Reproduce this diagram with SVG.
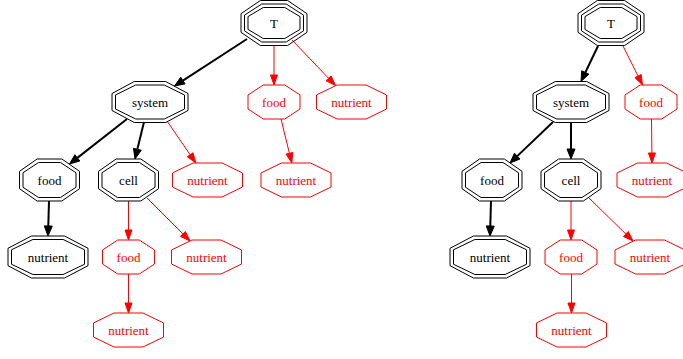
<svg xmlns="http://www.w3.org/2000/svg" width="683" height="359" viewBox="0 0 683 359" font-family="'Liberation Serif', 'Times New Roman', serif">
<defs>
<style>
.b{fill:none;stroke:#000000;stroke-width:1}
.r{fill:none;stroke:#ff0000;stroke-width:1}
.t{font-family:'Liberation Serif','Times New Roman',serif;font-size:13px;text-anchor:middle}
.tb{fill:#000000}
.tr{fill:#ff0000}
.eb{fill:none;stroke:#000000;stroke-width:2}
.er{fill:none;stroke:#ff0000;stroke-width:1}
.hb{fill:#000000;stroke:#000000;stroke-width:1}
.hr{fill:#ff0000;stroke:#ff0000;stroke-width:1}
</style>
</defs>
<rect width="683" height="359" fill="#ffffff"/>
<g id="connectors">
<path class="eb" d="M247,39 L182.89,80.56"/><polygon class="hb" points="174.5,86 180.71,77.2 185.07,83.92"/>
<path class="er" d="M274,46 L274,75"/><polygon class="hr" points="274,85 270.5,75 277.5,75"/>
<path class="er" d="M292,40 L328.59,78.27"/><polygon class="hr" points="335.5,85.5 326.06,80.69 331.12,75.85"/>
<path class="eb" d="M127,119 L77.37,157.84"/><polygon class="hb" points="69.5,164 74.91,154.69 79.83,160.99"/>
<path class="eb" d="M144,122 L137.36,149.28"/><polygon class="hb" points="135,159 133.47,148.34 141.25,150.22"/>
<path class="er" d="M167,121 L190.15,154.75"/><polygon class="hr" points="195.8,163 187.26,156.73 193.04,152.77"/>
<path class="er" d="M281,119 L289.42,153.29"/><polygon class="hr" points="291.8,163 286.02,154.12 292.82,152.46"/>
<path class="eb" d="M49,201 L48.29,226"/><polygon class="hb" points="48,236 44.29,225.89 52.29,226.11"/>
<path class="er" d="M128.5,201 L128.5,230"/><polygon class="hr" points="128.5,240 125,230 132,230"/>
<path class="er" d="M147,198 L182.93,233.93"/><polygon class="hr" points="190,241 180.46,236.4 185.4,231.46"/>
<path class="er" d="M128.5,274 L128.5,303"/><polygon class="hr" points="128.5,313 125,303 132,303"/>
<path class="eb" d="M598,46 L585.32,72.48"/><polygon class="hb" points="581,81.5 581.71,70.75 588.93,74.21"/>
<path class="er" d="M623,46 L638.03,76.06"/><polygon class="hr" points="642.5,85 634.9,77.63 641.16,74.49"/>
<path class="eb" d="M553,122 L517.24,156.1"/><polygon class="hb" points="510,163 514.48,153.2 520,159"/>
<path class="eb" d="M571,123 L571,149"/><polygon class="hb" points="571,159 567,149 575,149"/>
<path class="er" d="M651.5,119 L651.89,153"/><polygon class="hr" points="652,163 648.39,153.04 655.39,152.96"/>
<path class="eb" d="M491,201 L490.29,226"/><polygon class="hb" points="490,236 486.29,225.89 494.29,226.11"/>
<path class="er" d="M571,201 L571,230"/><polygon class="hr" points="571,240 567.5,230 574.5,230"/>
<path class="er" d="M589,198 L625.85,234.01"/><polygon class="hr" points="633,241 623.4,236.51 628.3,231.51"/>
<path class="er" d="M571.5,274 L571.5,303"/><polygon class="hr" points="571.5,313 568,303 575,303"/>
</g>
<g id="L_T">
<polygon class="b" points="307,13.68 287.66,0.5 260.34,0.5 241,13.68 241,32.32 260.34,45.5 287.66,45.5 307,32.32"/>
<polygon class="b" points="303.5,15.13 286.21,4 261.79,4 244.5,15.13 244.5,30.87 261.79,42 286.21,42 303.5,30.87"/>
<polygon class="b" points="300,16.58 284.76,7.5 263.24,7.5 248,16.58 248,29.42 263.24,38.5 284.76,38.5 300,29.42"/>
<text class="t tb" x="274" y="27.5">T</text>
</g>
<g id="L_system">
<polygon class="b" points="188,93.51 165.73,81.5 134.27,81.5 112,93.51 112,110.49 134.27,122.5 165.73,122.5 188,110.49"/>
<polygon class="b" points="184.5,94.96 164.28,85 135.72,85 115.5,94.96 115.5,109.04 135.72,119 164.28,119 184.5,109.04"/>
<text class="t tb" x="150" y="106.5">system</text>
</g>
<g id="L_T_food">
<polygon class="r" points="300,94.96 284.76,85 263.24,85 248,94.96 248,109.04 263.24,119 284.76,119 300,109.04"/>
<text class="t tr" x="274" y="106.5">food</text>
</g>
<g id="L_T_nutrient">
<polygon class="r" points="386.5,94.96 365.99,85 337.01,85 316.5,94.96 316.5,109.04 337.01,119 365.99,119 386.5,109.04"/>
<text class="t tr" x="351.5" y="106.5">nutrient</text>
</g>
<g id="L_food">
<polygon class="b" points="79.5,171.31 61.92,159 37.08,159 19.5,171.31 19.5,188.69 37.08,201 61.92,201 79.5,188.69"/>
<polygon class="b" points="76,172.75 60.47,162.5 38.53,162.5 23,172.75 23,187.25 38.53,197.5 60.47,197.5 76,187.25"/>
<text class="t tb" x="49.5" y="184.5">food</text>
</g>
<g id="L_cell">
<polygon class="b" points="158.5,171.31 140.92,159 116.08,159 98.5,171.31 98.5,188.69 116.08,201 140.92,201 158.5,188.69"/>
<polygon class="b" points="155,172.75 139.47,162.5 117.53,162.5 102,172.75 102,187.25 117.53,197.5 139.47,197.5 155,187.25"/>
<text class="t tb" x="128.5" y="184.5">cell</text>
</g>
<g id="L_sys_nutrient">
<polygon class="r" points="242.5,172.96 221.99,163 193.01,163 172.5,172.96 172.5,187.04 193.01,197 221.99,197 242.5,187.04"/>
<text class="t tr" x="207.5" y="184.5">nutrient</text>
</g>
<g id="L_food_nutrient_r">
<polygon class="r" points="331,172.96 310.49,163 281.51,163 261,172.96 261,187.04 281.51,197 310.49,197 331,187.04"/>
<text class="t tr" x="296" y="184.5">nutrient</text>
</g>
<g id="L_nutrient">
<polygon class="b" points="88,248.31 64.56,236 31.44,236 8,248.31 8,265.69 31.44,278 64.56,278 88,265.69"/>
<polygon class="b" points="84.5,249.75 63.11,239.5 32.89,239.5 11.5,249.75 11.5,264.25 32.89,274.5 63.11,274.5 84.5,264.25"/>
<text class="t tb" x="48" y="261.5">nutrient</text>
</g>
<g id="L_cell_food">
<polygon class="r" points="154.5,249.96 139.26,240 117.74,240 102.5,249.96 102.5,264.04 117.74,274 139.26,274 154.5,264.04"/>
<text class="t tr" x="128.5" y="261.5">food</text>
</g>
<g id="L_cell_nutrient">
<polygon class="r" points="241.5,249.96 220.99,240 192.01,240 171.5,249.96 171.5,264.04 192.01,274 220.99,274 241.5,264.04"/>
<text class="t tr" x="206.5" y="261.5">nutrient</text>
</g>
<g id="L_cell_food_nutrient">
<polygon class="r" points="163.5,322.96 142.99,313 114.01,313 93.5,322.96 93.5,337.04 114.01,347 142.99,347 163.5,337.04"/>
<text class="t tr" x="128.5" y="334.5">nutrient</text>
</g>
<g id="R_T">
<polygon class="b" points="644,13.68 624.66,0.5 597.34,0.5 578,13.68 578,32.32 597.34,45.5 624.66,45.5 644,32.32"/>
<polygon class="b" points="640.5,15.13 623.21,4 598.79,4 581.5,15.13 581.5,30.87 598.79,42 623.21,42 640.5,30.87"/>
<polygon class="b" points="637,16.58 621.76,7.5 600.24,7.5 585,16.58 585,29.42 600.24,38.5 621.76,38.5 637,29.42"/>
<text class="t tb" x="611" y="27.5">T</text>
</g>
<g id="R_system">
<polygon class="b" points="609,93.51 586.73,81.5 555.27,81.5 533,93.51 533,110.49 555.27,122.5 586.73,122.5 609,110.49"/>
<polygon class="b" points="605.5,94.96 585.28,85 556.72,85 536.5,94.96 536.5,109.04 556.72,119 585.28,119 605.5,109.04"/>
<text class="t tb" x="571" y="106.5">system</text>
</g>
<g id="R_T_food">
<polygon class="r" points="677,94.96 661.76,85 640.24,85 625,94.96 625,109.04 640.24,119 661.76,119 677,109.04"/>
<text class="t tr" x="651" y="106.5">food</text>
</g>
<g id="R_food">
<polygon class="b" points="522,171.31 504.42,159 479.58,159 462,171.31 462,188.69 479.58,201 504.42,201 522,188.69"/>
<polygon class="b" points="518.5,172.75 502.97,162.5 481.03,162.5 465.5,172.75 465.5,187.25 481.03,197.5 502.97,197.5 518.5,187.25"/>
<text class="t tb" x="492" y="184.5">food</text>
</g>
<g id="R_cell">
<polygon class="b" points="601,171.31 583.42,159 558.58,159 541,171.31 541,188.69 558.58,201 583.42,201 601,188.69"/>
<polygon class="b" points="597.5,172.75 581.97,162.5 560.03,162.5 544.5,172.75 544.5,187.25 560.03,197.5 581.97,197.5 597.5,187.25"/>
<text class="t tb" x="571" y="184.5">cell</text>
</g>
<g id="R_food_nutrient_r">
<polygon class="r" points="687,172.96 666.49,163 637.51,163 617,172.96 617,187.04 637.51,197 666.49,197 687,187.04"/>
<text class="t tr" x="652" y="184.5">nutrient</text>
</g>
<g id="R_nutrient">
<polygon class="b" points="530,248.31 506.56,236 473.44,236 450,248.31 450,265.69 473.44,278 506.56,278 530,265.69"/>
<polygon class="b" points="526.5,249.75 505.11,239.5 474.89,239.5 453.5,249.75 453.5,264.25 474.89,274.5 505.11,274.5 526.5,264.25"/>
<text class="t tb" x="490" y="261.5">nutrient</text>
</g>
<g id="R_cell_food">
<polygon class="r" points="597,249.96 581.76,240 560.24,240 545,249.96 545,264.04 560.24,274 581.76,274 597,264.04"/>
<text class="t tr" x="571" y="261.5">food</text>
</g>
<g id="R_cell_nutrient">
<polygon class="r" points="685,249.96 664.49,240 635.51,240 615,249.96 615,264.04 635.51,274 664.49,274 685,264.04"/>
<text class="t tr" x="650" y="261.5">nutrient</text>
</g>
<g id="R_cell_food_nutrient">
<polygon class="r" points="606.5,322.96 585.99,313 557.01,313 536.5,322.96 536.5,337.04 557.01,347 585.99,347 606.5,337.04"/>
<text class="t tr" x="571.5" y="334.5">nutrient</text>
</g>
</svg>
